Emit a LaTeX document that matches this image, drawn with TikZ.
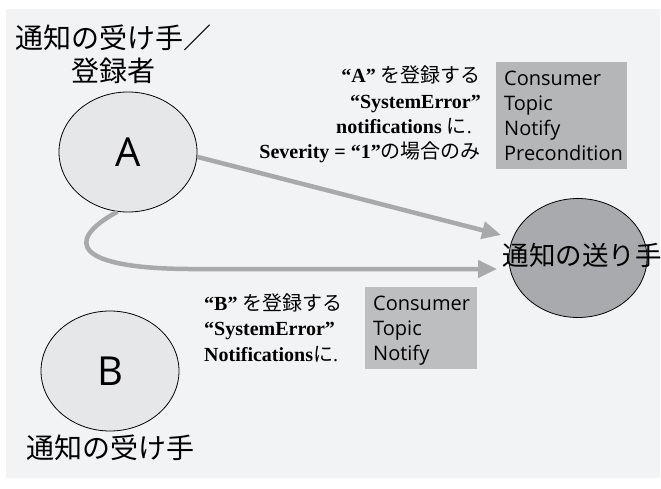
\documentclass[tikz,border=0pt]{standalone}
\usepackage{fontspec}
\setmainfont{Liberation Serif}
\newfontfamily\jp{Noto Sans CJK JP}
\newfontfamily\uisans{Open Sans}
\usetikzlibrary{shapes.geometric,arrows.meta}
\definecolor{panel}{HTML}{F2F3F5}
\definecolor{partyfill}{HTML}{E6E7E9}
\definecolor{senderfill}{HTML}{A9AAAD}
\definecolor{linkgray}{HTML}{A8A9AB}
\definecolor{boxa}{HTML}{B5B6B8}
\definecolor{boxb}{HTML}{BDBEC0}
\begin{document}
\begin{tikzpicture}[x=1pt,y=-1pt,
  party/.style={ellipse,draw=black,line width=0.8pt,fill=partyfill,
    minimum width=138pt,minimum height=120pt,inner sep=0pt,
    font=\uisans\fontsize{40}{40}\selectfont},
  sender/.style={ellipse,draw=black,line width=0.8pt,fill=senderfill,
    minimum width=138pt,minimum height=119pt,inner sep=0pt},
  role/.style={inner sep=0pt,align=center,font=\jp\fontsize{28}{33}\selectfont},
  regtext/.style={inner sep=0pt,font=\fontsize{20}{25.3}\selectfont},
  fieldbox/.style={inner sep=0pt,align=left,anchor=north west,
    font=\uisans\fontsize{20}{25.2}\selectfont},
  conn/.style={draw=linkgray,line width=4.5pt,
    -{Triangle[length=19pt,width=17pt]}}]
\useasboundingbox (0,0) rectangle (661,489);
\fill[panel] (6,9) rectangle (660,478);

% the two consumers and the notification sender
\node[party] (A) at (128,152) {A};
\node[party] (B) at (110,371) {B};
\coordinate (t1) at (501,235);
\coordinate (t2) at (497,269);

% subscriptions of A
\draw[conn] (A.-4) -- (t1);
\draw[conn] (A.-100) .. controls (65,240) and (70,270) .. (200,269) -- (t2);

\node[sender] (S) at (578,258) {};
\node[inner sep=0pt,font=\jp\fontsize{26.5}{30}\selectfont] (Stext) at (582,255) {通知の送り手};

% role captions
\node[role] (Acap) at (113,54) {通知の受け手／\\登録者};
\node[role] (Bcap) at (110,448) {通知の受け手};

% registration of A
\node[regtext,align=right,anchor=north east] (Areg) at (481,66)
  {\bfseries “A” {\mdseries\jp を登録する}\\
   \bfseries “SystemError”\\
   \bfseries notifications {\mdseries\jp に}\mdseries.\hbox to 9pt{}\\
   \bfseries Severity = “1”{\mdseries\jp の場合のみ}};
\node[fieldbox,fill=boxa,minimum width=131pt,minimum height=107pt,text width=115pt]
  (Abox) at (496,62) {Consumer\\Topic\\Notify\\Precondition};

% registration of B
\node[regtext,align=left,anchor=north west] (Breg) at (204,293.5)
  {\bfseries “B” {\mdseries\jp を登録する}\\
   \bfseries “SystemError”\\
   \bfseries Notifications{\mdseries\jp に}\mdseries.};
\node[fieldbox,fill=boxb,minimum width=112pt,minimum height=82pt,text width=96pt]
  (Bbox) at (365,287) {Consumer\\Topic\\\raisebox{0pt}[\height][0pt]{Notify}};
\end{tikzpicture}
\end{document}
